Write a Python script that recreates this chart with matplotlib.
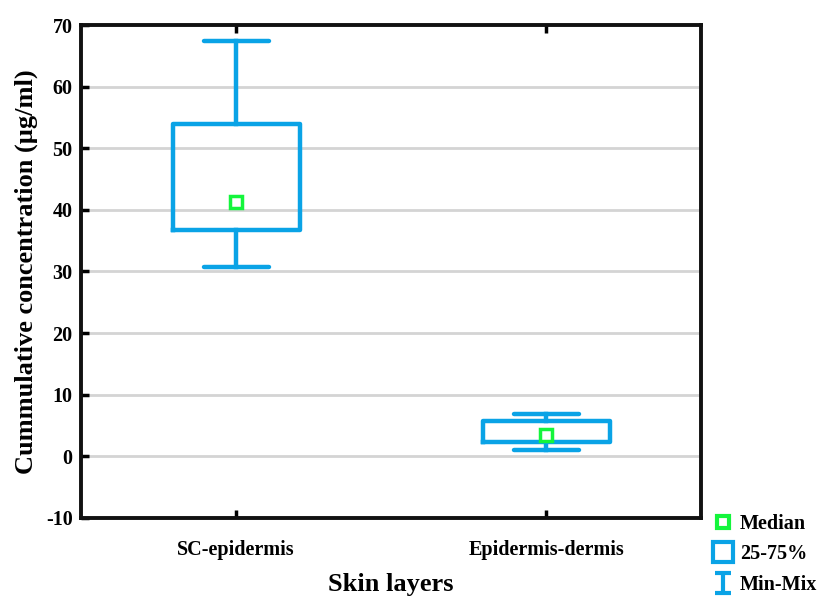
import matplotlib.pyplot as plt
from matplotlib.lines import Line2D
from matplotlib.path import Path

categories = ['SC-epidermis', 'Epidermis-dermis']
q1 = [36.7, 2.3]
q3 = [53.9, 5.7]
medians = [41.2, 3.4]
mins = [30.8, 1.0]
maxs = [67.4, 6.8]

blue = '#0aa3e6'
green = '#14f53c'

plt.rcParams['font.family'] = ['Liberation Serif', 'DejaVu Serif']
plt.rcParams['font.weight'] = 'bold'
plt.rcParams['axes.unicode_minus'] = False

fig = plt.figure(figsize=(8.19, 5.96), dpi=100)
ax = fig.add_axes([0.099, 0.131, 0.757, 0.827])

stats = []
for i in range(len(categories)):
    stats.append({'med': medians[i], 'q1': q1[i], 'q3': q3[i],
                  'whislo': mins[i], 'whishi': maxs[i], 'fliers': []})

pos = list(range(len(categories)))
ax.bxp(stats, positions=pos, widths=0.41, showfliers=False,
       boxprops=dict(color=blue, linewidth=3.2),
       whiskerprops=dict(color=blue, linewidth=3.2),
       capprops=dict(color=blue, linewidth=3.2, solid_capstyle='round'),
       medianprops=dict(visible=False), capwidths=0.21, zorder=3)
ax.plot(pos, medians, linestyle='none', marker='s', markersize=8,
        markerfacecolor='white', markeredgecolor=green, markeredgewidth=2.5, zorder=4)

ax.set_xlim(-0.5, 1.5)
ax.set_ylim(-10, 70)
ax.set_yticks(range(-10, 71, 10))
ax.set_xticks(pos)
ax.set_xticklabels(categories)
for y in range(0, 61, 10):
    ax.axhline(y, color='#d4d4d4', linewidth=2, zorder=1)

for s in ax.spines.values():
    s.set_linewidth(2.8)
    s.set_color('#111111')
ax.tick_params(axis='both', direction='in', length=6, width=2.5, labelsize=14.5, pad=6)
ax.tick_params(axis='x', top=True, pad=16)
for lab in ax.get_xticklabels() + ax.get_yticklabels():
    lab.set_fontweight('bold')

ax.set_xlabel('Skin layers', fontsize=19, fontweight='bold', labelpad=9)
ax.set_ylabel('Cummulative concentration (µg/ml)', fontsize=19, fontweight='bold', labelpad=6)

ibar = Path([(-0.75, 1), (0.75, 1), (0, 1), (0, -1), (-0.75, -1), (0.75, -1)],
            [Path.MOVETO, Path.LINETO, Path.MOVETO, Path.LINETO, Path.MOVETO, Path.LINETO])
handles = [
    Line2D([], [], linestyle='none', marker='s', markersize=8, markerfacecolor='white',
           markeredgecolor=green, markeredgewidth=3),
    Line2D([], [], linestyle='none', marker='s', markersize=15, markerfacecolor='white',
           markeredgecolor=blue, markeredgewidth=3),
    Line2D([], [], linestyle='none', marker=ibar, markersize=15, markeredgecolor=blue,
           markeredgewidth=3),
]
fig.legend(handles, ['Median', '25-75%', 'Min-Mix'], loc='lower left',
           bbox_to_anchor=(0.848, -0.028), frameon=False, handlelength=1.0,
           handletextpad=0.35, labelspacing=0.5, prop={'size': 14.5, 'weight': 'bold'})

fig.savefig('out.png', dpi=100)
